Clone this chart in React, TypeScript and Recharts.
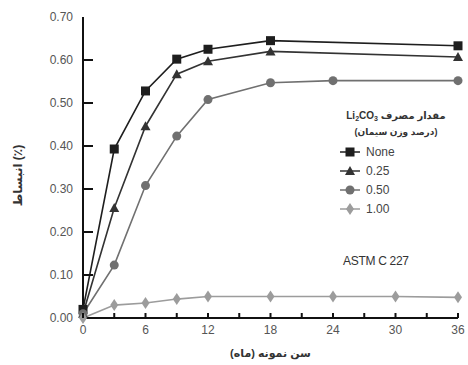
import React from 'react'
import { LineChart, Line, XAxis, YAxis, Label } from 'recharts'

const monthsNone = [0, 3, 6, 9, 12, 18, 36]
const valuesNone = [0.02, 0.393, 0.528, 0.602, 0.625, 0.645, 0.633]
const months025 = [0, 3, 6, 9, 12, 18, 36]
const values025 = [0.01, 0.256, 0.446, 0.567, 0.597, 0.62, 0.607]
const months050 = [0, 3, 6, 9, 12, 18, 24, 36]
const values050 = [0.01, 0.123, 0.308, 0.423, 0.508, 0.547, 0.552, 0.552]
const months100 = [0, 3, 6, 9, 12, 18, 24, 30, 36]
const values100 = [0.0, 0.03, 0.035, 0.044, 0.05, 0.05, 0.05, 0.05, 0.048]

const xTicks = [0, 3, 6, 9, 12, 15, 18, 21, 24, 27, 30, 33, 36]
const yTicks = [0, 0.1, 0.2, 0.3, 0.4, 0.5, 0.6, 0.7]

const zip = (xs: number[], ys: number[]) => xs.map((m, i) => ({ month: m, value: ys[i] }))

const series = [
  { name: 'None', shape: 'square', color: '#1e1e1e', data: zip(monthsNone, valuesNone) },
  { name: '0.25', shape: 'triangle', color: '#333333', data: zip(months025, values025) },
  { name: '0.50', shape: 'circle', color: '#707070', data: zip(months050, values050) },
  { name: '1.00', shape: 'diamond', color: '#9c9c9c', data: zip(months100, values100) },
]

const FONT = '"Liberation Sans", Arial, "DejaVu Sans", sans-serif'

function Marker({ cx, cy, shape, color }: { cx: number; cy: number; shape: string; color: string }) {
  if (cx == null || cy == null) return null
  if (shape === 'square') return <rect x={cx - 4.5} y={cy - 4.5} width={9} height={9} fill={color} />
  if (shape === 'triangle')
    return <polygon points={`${cx},${cy - 5} ${cx + 5},${cy + 4} ${cx - 5},${cy + 4}`} fill={color} />
  if (shape === 'circle') return <circle cx={cx} cy={cy} r={4.5} fill={color} />
  return <polygon points={`${cx},${cy - 6} ${cx + 4},${cy} ${cx},${cy + 6} ${cx - 4},${cy}`} fill={color} />
}

function XTick(props: any) {
  const { x, y, payload } = props
  const v = payload.value
  const axisY = y - 8
  return (
    <g>
      <line x1={x} x2={x} y1={axisY} y2={axisY - 5} stroke="#111" strokeWidth={2} />
      {v % 6 === 0 && (
        <text x={x} y={y} dy={8} textAnchor="middle" fill="#555" fontSize={12} fontFamily={FONT}>
          {v}
        </text>
      )}
    </g>
  )
}

function YTick(props: any) {
  const { x, y, payload } = props
  const axisX = x + 8
  return (
    <g>
      {payload.value > 0 && payload.value < 0.7 && (
        <line x1={axisX} x2={axisX + 10} y1={y} y2={y} stroke="#111" strokeWidth={2} />
      )}
      <text x={x - 2} y={y} dy={4} textAnchor="end" fill="#555" fontSize={12} fontFamily={FONT}>
        {payload.value.toFixed(2)}
      </text>
    </g>
  )
}

function LegendBox() {
  return (
    <div style={{ fontFamily: FONT, color: '#333', width: 124 }}>
      <div style={{ direction: 'rtl', textAlign: 'center', fontSize: 10, fontWeight: 'bold', lineHeight: '15px', whiteSpace: 'nowrap' }}>
        {'مقدار مصرف '}
        <span style={{ direction: 'ltr', unicodeBidi: 'isolate' }}>
          Li<span style={{ fontSize: 7, verticalAlign: -2 }}>2</span>CO<span style={{ fontSize: 7, verticalAlign: -2 }}>3</span>
        </span>
      </div>
      <div style={{ direction: 'rtl', textAlign: 'center', fontSize: 9, fontWeight: 'bold', lineHeight: '13px', marginBottom: 3 }}>
        (درصد وزن سیمان)
      </div>
      {series.map((s) => (
        <div key={s.name} style={{ display: 'flex', alignItems: 'center', height: 19, marginLeft: 6 }}>
          <svg width={20} height={14}>
            <line x1={0} x2={20} y1={7} y2={7} stroke={s.color} strokeWidth={1.5} />
            <Marker cx={10} cy={7} shape={s.shape} color={s.color} />
          </svg>
          <span style={{ marginLeft: 6, fontSize: 12, color: '#444' }}>{s.name}</span>
        </div>
      ))}
    </div>
  )
}

export default function App() {
  return (
    <div style={{ position: 'absolute', left: 0, top: 0, width: 468, height: 365, background: '#fff' }}>
      <LineChart width={468} height={365} margin={{ top: 17, right: 10, bottom: 0, left: 0 }}>
        <XAxis
          xAxisId="top"
          orientation="top"
          type="number"
          dataKey="month"
          domain={[0, 36]}
          height={0}
          tick={false}
          tickLine={false}
          axisLine={{ stroke: '#111', strokeWidth: 2 }}
        />
        <YAxis
          yAxisId="right"
          orientation="right"
          type="number"
          domain={[0, 0.7]}
          width={0}
          tick={false}
          tickLine={false}
          axisLine={{ stroke: '#111', strokeWidth: 2 }}
        />
        <XAxis
          type="number"
          dataKey="month"
          domain={[0, 36]}
          ticks={xTicks}
          interval={0}
          height={47}
          tickSize={0}
          tickMargin={8}
          tickLine={false}
          tick={<XTick />}
          axisLine={{ stroke: '#111', strokeWidth: 2 }}
        >
          <Label
            value="سن نمونه (ماه)"
            position="insideBottom"
            offset={8}
            style={{ fontFamily: FONT, fontSize: 11, fontWeight: 'bold', fill: '#333' }}
          />
        </XAxis>
        <YAxis
          type="number"
          domain={[0, 0.7]}
          ticks={yTicks}
          interval={0}
          width={83}
          tickSize={0}
          tickMargin={8}
          tickLine={false}
          tick={<YTick />}
          axisLine={{ stroke: '#111', strokeWidth: 2 }}
        >
          <Label
            value="انبساط (٪)"
            angle={-90}
            position="insideLeft"
            offset={18}
            dy={8}
            style={{ fontFamily: FONT, fontSize: 12, fontWeight: 'bold', fill: '#333', textAnchor: 'middle' }}
          />
        </YAxis>
        {series.map((s) => (
          <Line
            key={s.name}
            data={s.data}
            dataKey="value"
            name={s.name}
            stroke={s.color}
            strokeWidth={1.6}
            isAnimationActive={false}
            dot={(p: any) => <Marker key={`${s.name}-${p.index}`} cx={p.cx} cy={p.cy} shape={s.shape} color={s.color} />}
            activeDot={false}
          />
        ))}
      </LineChart>
      <div style={{ position: 'absolute', left: 334, top: 108 }}>
        <LegendBox />
      </div>
      <div
        style={{
          position: 'absolute',
          left: 343,
          top: 254,
          fontFamily: FONT,
          fontSize: 12,
          color: '#333',
          letterSpacing: -0.3,
        }}
      >
        ASTM C 227
      </div>
    </div>
  )
}
